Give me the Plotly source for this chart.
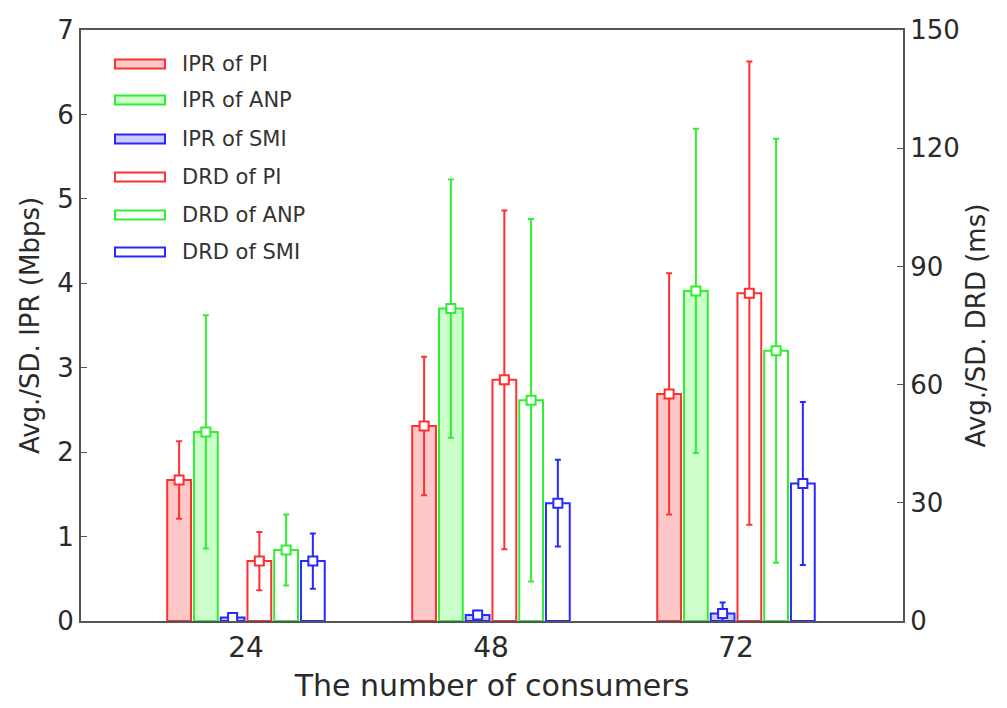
import plotly.graph_objects as go

# ---- data ----
consumers = [24, 48, 72]
series_names = ["IPR of PI", "IPR of ANP", "IPR of SMI", "DRD of PI", "DRD of ANP", "DRD of SMI"]

ipr_pi = [1.67, 2.31, 2.69]
ipr_pi_sd = [0.46, 0.82, 1.43]
ipr_anp = [2.24, 3.70, 3.91]
ipr_anp_sd = [1.38, 1.53, 1.92]
ipr_smi = [0.04, 0.07, 0.09]
ipr_smi_sd = [0.03, 0.05, 0.13]

drd_pi = [15.2, 61.2, 83.2]
drd_pi_sd = [7.4, 43.0, 58.8]
drd_anp = [18.0, 56.0, 68.6]
drd_anp_sd = [9.0, 46.0, 53.8]
drd_smi = [15.2, 29.9, 34.9]
drd_smi_sd = [7.0, 11.0, 20.7]

values = [ipr_pi, ipr_anp, ipr_smi, drd_pi, drd_anp, drd_smi]
errors = [ipr_pi_sd, ipr_anp_sd, ipr_smi_sd, drd_pi_sd, drd_anp_sd, drd_smi_sd]
axes = ["y", "y", "y", "y2", "y2", "y2"]

line_colors = ["#ff3030", "#30ee30", "#2828ff", "#ff3030", "#30ee30", "#2828ff"]
fill_colors = ["#ffc8c8", "#ccffcc", "#ccccff", "#ffffff", "#ffffff", "#ffffff"]

# ---- layout geometry ----
W, H = 1007, 708
L, R, T, B = 81, 903, 30, 621
step = 2.62      # distance between neighbouring bars (x units)
bar_w = 2.33     # bar width (x units)

fig = go.Figure()

for i, (name, vals, errs, ax) in enumerate(zip(series_names, values, errors, axes)):
    off = (i - 2.5) * step
    xs = [c + off for c in consumers]
    fig.add_trace(go.Bar(
        x=xs, y=vals, width=bar_w, name=name, yaxis=ax,
        marker=dict(color=fill_colors[i], line=dict(color=line_colors[i], width=2)),
        error_y=dict(type="data", array=errs, visible=True,
                     color=line_colors[i], thickness=2, width=3),
        showlegend=False,
    ))
    fig.add_trace(go.Scatter(
        x=xs, y=vals, mode="markers", yaxis=ax, showlegend=False,
        marker=dict(symbol="square", size=9, color="white",
                    line=dict(color=line_colors[i], width=2)),
    ))

# ---- custom legend (wide sample rectangles) ----
leg_y_px = [64, 100, 139, 177, 215, 252]
pw, ph = R - L, B - T
for i, name in enumerate(series_names):
    yc = (B - leg_y_px[i]) / ph
    fig.add_shape(type="rect", xref="paper", yref="paper",
                  x0=(115 - L) / pw, x1=(165 - L) / pw,
                  y0=yc - 4.5 / ph, y1=yc + 4.5 / ph,
                  fillcolor=fill_colors[i], line=dict(color=line_colors[i], width=2))
    fig.add_annotation(xref="paper", yref="paper", x=(180 - L) / pw, y=yc,
                       text=name, showarrow=False, xanchor="left", yanchor="middle",
                       font=dict(size=21, color="#333333"))

axis_line = dict(showline=True, linecolor="#555555", linewidth=2)

fig.update_layout(
    width=W, height=H,
    margin=dict(l=L, r=W - R, t=T, b=H - B, autoexpand=False),
    plot_bgcolor="white", paper_bgcolor="white",
    barmode="overlay",
    font=dict(family="DejaVu Sans", color="#2a2a2a"),
    xaxis=dict(range=[7.84, 88.36], tickvals=consumers, ticktext=[str(c) for c in consumers],
               ticks="", showgrid=False, zeroline=False, mirror=True,
               tickfont=dict(size=28),
               title=dict(text="The number of consumers", font=dict(size=30), standoff=12),
               **axis_line),
    yaxis=dict(range=[0, 7], dtick=1, ticks="inside", ticklen=6, tickcolor="#555555",
               showgrid=False, zeroline=False, tickfont=dict(size=26),
               title=dict(text="Avg./SD. IPR (Mbps)", font=dict(size=26), standoff=10),
               **axis_line),
    yaxis2=dict(range=[0, 150], dtick=30, overlaying="y", side="right",
                ticks="inside", ticklen=6, tickcolor="#555555",
                showgrid=False, zeroline=False, tickfont=dict(size=26),
                title=dict(text="Avg./SD. DRD (ms)", font=dict(size=26), standoff=8),
                **axis_line),
)

fig.write_html("out.html")
